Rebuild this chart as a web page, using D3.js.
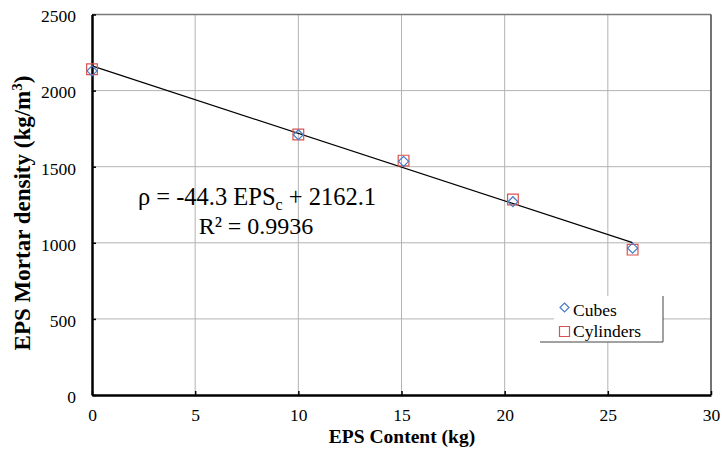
<!DOCTYPE html>
<html>
<head>
<meta charset="utf-8">
<script src="https://cdn.jsdelivr.net/npm/d3@7"></script>
<style>
  html, body { margin: 0; padding: 0; background: #fff; }
  svg { display: block; }
</style>
</head>
<body>
<svg id="chart" width="722" height="449"></svg>
<script>
// EPS content (kg) for each mix
const epsContent = [0, 10, 15.1, 20.4, 26.2];
// Measured densities (kg/m³)
const cubeDensity = [2130, 1710, 1535, 1270, 965];
const cylinderDensity = [2140, 1712, 1540, 1285, 955];
// Linear fit: ρ = slope · EPSc + intercept
const fitSlope = -44.3;
const fitIntercept = 2162.1;
const fitR2 = 0.9936;
const fitRange = [0, 26.2];
// Axis ticks
const xTicks = [0, 5, 10, 15, 20, 25, 30];
const yTicks = [0, 500, 1000, 1500, 2000, 2500];

const FONT = '"Liberation Serif"';
const svg = d3.select("#chart");
const plotLeft = 92, plotRight = 711, plotTop = 14.5, plotBottom = 395;

const x = d3.scaleLinear().domain([0, 30]).range([plotLeft, plotRight]);
const y = d3.scaleLinear().domain([0, 2500]).range([plotBottom, plotTop]);

const txt = (sel, size, weight) => sel.style("font-family", FONT)
  .style("font-size", size + "px").style("font-weight", weight || "normal").attr("fill", "#000");

// grid lines
const grid = svg.append("g").attr("stroke", "#b3b3b3").attr("stroke-width", 1);
xTicks.slice(1, -1).forEach(t => grid.append("line")
  .attr("x1", x(t)).attr("x2", x(t)).attr("y1", plotTop).attr("y2", plotBottom));
yTicks.slice(1, -1).forEach(t => grid.append("line")
  .attr("x1", plotLeft).attr("x2", plotRight).attr("y1", y(t)).attr("y2", y(t)));

// frame: top and right edges
svg.append("line").attr("x1", plotLeft).attr("x2", plotRight).attr("y1", plotTop).attr("y2", plotTop)
  .attr("stroke", "#7a7a7a").attr("stroke-width", 1.5);
svg.append("line").attr("x1", plotRight).attr("x2", plotRight).attr("y1", plotTop).attr("y2", plotBottom)
  .attr("stroke", "#444").attr("stroke-width", 1.5);

// axes
const xAxis = d3.axisBottom(x).tickValues(xTicks).tickFormat(d3.format("d"))
  .tickSizeInner(-4).tickSizeOuter(0).tickPadding(14);
const yAxis = d3.axisLeft(y).tickValues(yTicks).tickFormat(d3.format("d"))
  .tickSizeInner(-4).tickSizeOuter(0).tickPadding(16);

const gx = svg.append("g").attr("transform", `translate(0,${plotBottom})`).call(xAxis);
const gy = svg.append("g").attr("transform", `translate(${plotLeft},0)`).call(yAxis);
[gx, gy].forEach(g => {
  g.select(".domain").attr("stroke", "#000").attr("stroke-width", 2.5);
  g.selectAll(".tick line").attr("stroke", "#000").attr("stroke-width", 1.5);
  txt(g.selectAll(".tick text"), 17.5);
});
gy.selectAll(".tick text").attr("dy", "0.42em");

// trend line
svg.append("line")
  .attr("x1", x(fitRange[0])).attr("y1", y(fitSlope * fitRange[0] + fitIntercept))
  .attr("x2", x(fitRange[1])).attr("y2", y(fitSlope * fitRange[1] + fitIntercept))
  .attr("stroke", "#000").attr("stroke-width", 1.2);

// markers
const squareSym = d3.symbol().type(d3.symbolSquare).size(115);
const diamondPath = s => `M0,${-s}L${s},0L0,${s}L${-s},0Z`;

svg.append("g").selectAll("path").data(epsContent).join("path")
  .attr("d", squareSym)
  .attr("transform", (d, i) => `translate(${x(d)},${y(cylinderDensity[i])})`)
  .attr("fill", "none").attr("stroke", "#d9534f").attr("stroke-width", 1.2);

svg.append("g").selectAll("path").data(epsContent).join("path")
  .attr("d", diamondPath(5))
  .attr("transform", (d, i) => `translate(${x(d)},${y(cubeDensity[i])})`)
  .attr("fill", "none").attr("stroke", "#4a7cc4").attr("stroke-width", 1.2);

// equation
const eq = txt(svg.append("text").attr("x", 257).attr("y", 205).attr("text-anchor", "middle"), 24.5);
eq.append("tspan").text(`ρ = ${fitSlope} EPS`);
eq.append("tspan").attr("dy", 5).style("font-size", "16px").text("c");
eq.append("tspan").attr("dy", -5).text(` + ${fitIntercept}`);
txt(svg.append("text").attr("x", 256).attr("y", 234).attr("text-anchor", "middle"), 24)
  .text(`R² = ${fitR2}`);

// legend
const lg = svg.append("g");
lg.append("rect").attr("x", 554).attr("y", 296).attr("width", 109).attr("height", 46)
  .attr("fill", "#fff");
lg.append("line").attr("x1", 540).attr("x2", 663).attr("y1", 342).attr("y2", 342)
  .attr("stroke", "#444").attr("stroke-width", 1);
lg.append("line").attr("x1", 663).attr("x2", 663).attr("y1", 296).attr("y2", 342)
  .attr("stroke", "#444").attr("stroke-width", 1);
lg.append("path").attr("d", diamondPath(4.5))
  .attr("transform", "translate(564.5,307.5)")
  .attr("fill", "none").attr("stroke", "#4a7cc4").attr("stroke-width", 1.2);
lg.append("path").attr("d", d3.symbol().type(d3.symbolSquare).size(100))
  .attr("transform", "translate(564.5,331.5)")
  .attr("fill", "none").attr("stroke", "#d9534f").attr("stroke-width", 1.2);
txt(lg.append("text").attr("x", 573).attr("y", 316), 17.5).text("Cubes");
txt(lg.append("text").attr("x", 573).attr("y", 337), 17.5).text("Cylinders");

// axis titles
txt(svg.append("text").attr("x", 402).attr("y", 443).attr("text-anchor", "middle"), 19.5, "bold")
  .text("EPS Content (kg)");
const yt = txt(svg.append("text").attr("transform", "translate(30,213) rotate(-90)")
  .attr("text-anchor", "middle"), 23, "bold");
yt.append("tspan").text("EPS Mortar density (kg/m");
yt.append("tspan").attr("dy", -8).style("font-size", "15px").text("3");
yt.append("tspan").attr("dy", 8).text(")");
</script>
</body>
</html>
